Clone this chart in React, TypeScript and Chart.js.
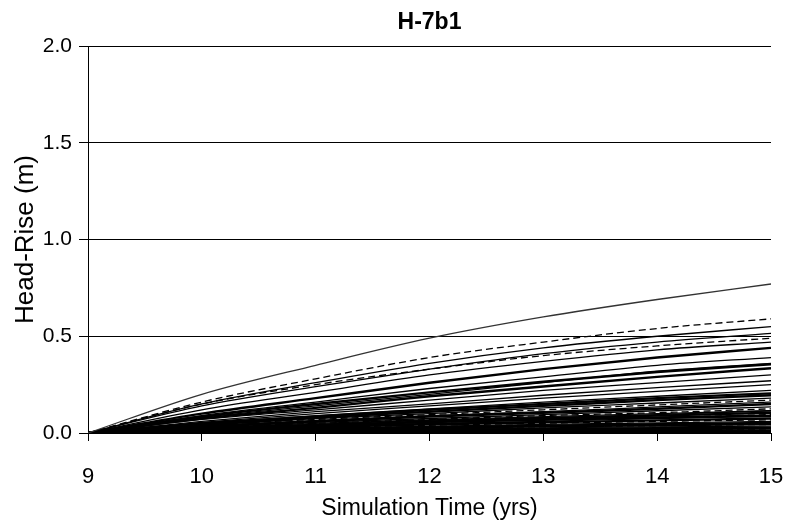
import React, { useEffect, useRef } from "react";
import { Chart, registerables } from "chart.js";

Chart.register(...registerables);

const years = [9, 10, 11, 12, 13, 14, 15];
const yTicks = [0, 0.5, 1.0, 1.5, 2.0];

// Head-rise series (m) at each simulation year
const s01 = [0, 0.20, 0.35, 0.49, 0.60, 0.69, 0.77];
const s02 = [0, 0.16, 0.28, 0.39, 0.47, 0.54, 0.59];
const s03 = [0, 0.15, 0.26, 0.36, 0.44, 0.50, 0.55];
const s04 = [0, 0.14, 0.24, 0.33, 0.41, 0.47, 0.515];
const s05 = [0, 0.15, 0.25, 0.33, 0.40, 0.45, 0.49];
const s06 = [0, 0.12, 0.21, 0.30, 0.37, 0.43, 0.47];
const s07 = [0, 0.10, 0.18, 0.26, 0.33, 0.39, 0.44];
const s08 = [0, 0.09, 0.16, 0.23, 0.29, 0.35, 0.39];
const s09 = [0, 0.08, 0.14, 0.20, 0.26, 0.32, 0.36];
const s10 = [0, 0.075, 0.13, 0.19, 0.24, 0.29, 0.335];
const s11 = [0, 0.07, 0.12, 0.17, 0.22, 0.26, 0.30];
const s12 = [0, 0.06, 0.11, 0.15, 0.195, 0.235, 0.27];
const s13 = [0, 0.055, 0.10, 0.14, 0.18, 0.215, 0.25];
const s14 = [0, 0.05, 0.09, 0.125, 0.16, 0.19, 0.22];
const s15 = [0, 0.045, 0.08, 0.11, 0.14, 0.17, 0.195];
const s16 = [0, 0.04, 0.075, 0.10, 0.13, 0.155, 0.18];
const s17 = [0, 0.04, 0.07, 0.095, 0.12, 0.145, 0.17];
const s18 = [0, 0.035, 0.065, 0.09, 0.11, 0.135, 0.16];
const s19 = [0, 0.035, 0.06, 0.085, 0.105, 0.125, 0.15];
const s20 = [0, 0.03, 0.055, 0.075, 0.095, 0.115, 0.135];
const s21 = [0, 0.03, 0.05, 0.07, 0.09, 0.105, 0.125];
const s22 = [0, 0.025, 0.045, 0.065, 0.08, 0.095, 0.115];
const s23 = [0, 0.025, 0.04, 0.06, 0.075, 0.09, 0.105];
const s24 = [0, 0.02, 0.04, 0.055, 0.07, 0.08, 0.095];
const s25 = [0, 0.02, 0.035, 0.05, 0.06, 0.075, 0.085];
const s26 = [0, 0.018, 0.03, 0.045, 0.055, 0.065, 0.075];
const s27 = [0, 0.015, 0.028, 0.04, 0.05, 0.06, 0.068];
const s28 = [0, 0.013, 0.025, 0.035, 0.045, 0.052, 0.06];
const s29 = [0, 0.012, 0.022, 0.03, 0.038, 0.045, 0.052];
const s30 = [0, 0.01, 0.018, 0.026, 0.032, 0.038, 0.044];
const s31 = [0, 0.008, 0.015, 0.022, 0.027, 0.032, 0.036];
const s32 = [0, 0.007, 0.012, 0.017, 0.021, 0.025, 0.028];
const s33 = [0, 0.005, 0.009, 0.013, 0.016, 0.019, 0.021];
const s34 = [0, 0.004, 0.007, 0.009, 0.011, 0.013, 0.015];
const s35 = [0, 0.002, 0.004, 0.006, 0.007, 0.008, 0.009];
const s36 = [0, 0.001, 0.002, 0.003, 0.003, 0.004, 0.004];
const s37 = [0, 0.05, 0.085, 0.12, 0.15, 0.18, 0.205];
const s38 = [0, 0.028, 0.05, 0.068, 0.085, 0.10, 0.115];
const s39 = [0, 0.022, 0.04, 0.056, 0.068, 0.08, 0.09];
const s40 = [0, 0.012, 0.02, 0.028, 0.034, 0.04, 0.046];
const s41 = [0, 0.006, 0.01, 0.014, 0.017, 0.02, 0.023];
const s42 = [0, 0.085, 0.15, 0.21, 0.265, 0.315, 0.355];

const seriesList = [
  s01, s02, s03, s04, s05, s06, s07, s08, s09, s10, s11, s12,
  s13, s14, s15, s16, s17, s18, s19, s20, s21, s22, s23, s24,
  s25, s26, s27, s28, s29, s30, s31, s32, s33, s34, s35, s36,
  s37, s38, s39, s40, s41, s42,
];
// line style per series: "s" solid, "d" dashed, "t" thick
const styles = [
  "s", "d", "s", "s", "d", "s", "t", "s", "s", "t", "s", "s",
  "s", "s", "t", "s", "d", "s", "t", "s", "d", "s", "t", "d",
  "s", "t", "d", "s", "t", "d", "s", "t", "d", "s", "t", "s",
  "t", "s", "t", "t", "t", "t",
];

const FONT = "'Liberation Sans', Arial, sans-serif";

export default function App() {
  const ref = useRef<HTMLCanvasElement | null>(null);
  useEffect(() => {
    if (!ref.current) return;
    const datasets = seriesList.map((vals, i) => {
      const st = styles[i];
      return {
        label: "S" + (i + 1),
        data: years.map((x, j) => ({ x, y: vals[j] })),
        borderColor: i === 0 ? "#333" : "#000",
        borderWidth: st === "t" ? 2.4 : 1.3,
        borderDash: st === "d" ? [7, 4] : [],
        pointRadius: 0,
        cubicInterpolationMode: "monotone" as const,
        fill: false,
      };
    });
    const chart = new Chart(ref.current, {
      type: "line",
      data: { datasets },
      options: {
        animation: false,
        responsive: false,
        maintainAspectRatio: false,
        layout: { padding: { left: 0, right: 16, top: 0, bottom: 0 } },
        plugins: {
          legend: { display: false },
          tooltip: { enabled: false },
          title: {
            display: true,
            text: "H-7b1",
            fullSize: false,
            color: "#000",
            font: { family: FONT, size: 23, weight: "bold" },
            padding: { top: 9, bottom: 9.4 },
          },
        },
        scales: {
          x: {
            type: "linear",
            min: 9,
            max: 15,
            afterBuildTicks: (s: any) => {
              s.ticks = years.map((v) => ({ value: v }));
            },
            afterFit: (s: any) => {
              s.height = 89;
              s.paddingLeft = 0;
              s.paddingRight = 0;
            },
            ticks: {
              color: "#000",
              font: { family: FONT, size: 22 },
              padding: 23,
              maxRotation: 0,
            },
            grid: {
              drawOnChartArea: false,
              drawTicks: true,
              tickLength: 8,
              color: "#000",
              lineWidth: 1,
            },
            border: { display: true, color: "#000", width: 1 },
            title: {
              display: true,
              text: "Simulation Time (yrs)",
              color: "#000",
              font: { family: FONT, size: 23 },
              padding: { top: 0, bottom: 0 },
            },
          },
          y: {
            min: 0,
            max: 2,
            afterBuildTicks: (s: any) => {
              s.ticks = yTicks.map((v) => ({ value: v }));
            },
            afterFit: (s: any) => {
              s.width = 88;
            },
            ticks: {
              color: "#000",
              font: { family: FONT, size: 21 },
              padding: 7,
              callback: (v: any) => Number(v).toFixed(1),
            },
            grid: {
              drawOnChartArea: true,
              drawTicks: true,
              tickLength: 9,
              color: "#000",
              lineWidth: 1,
            },
            border: { display: true, color: "#000", width: 1 },
            title: {
              display: true,
              text: "Head-Rise (m)",
              color: "#000",
              font: { family: FONT, size: 26 },
              padding: { top: 10, bottom: 0 },
            },
          },
        },
      },
    });
    return () => chart.destroy();
  }, []);
  return (
    <div style={{ position: "fixed", left: 0, top: 0, width: 787, height: 522, background: "#fff" }}>
      <canvas ref={ref} width={787} height={522} style={{ display: "block" }} />
    </div>
  );
}
